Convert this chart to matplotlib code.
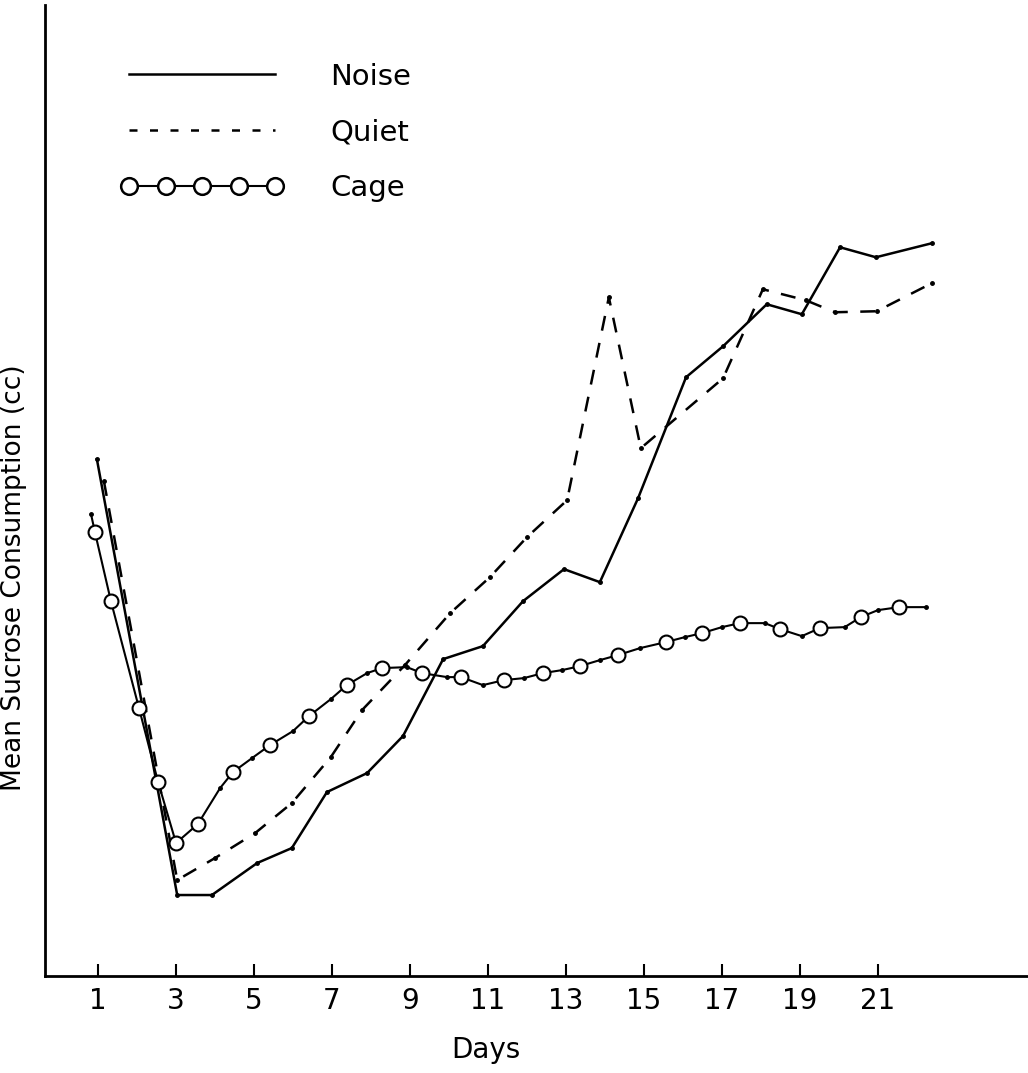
import matplotlib
matplotlib.use("Agg")
import matplotlib.pyplot as plt
from matplotlib.lines import Line2D

# values (days, cc)
noise_days = [0.97, 3.03, 3.92, 5.08, 5.97, 6.87, 7.90, 8.82, 9.85, 10.87, 11.90,
              12.95, 13.87, 14.85, 16.08, 17.03, 18.15, 19.05, 20.03, 20.95, 22.38]
noise_vals = [5.17, 0.81, 0.81, 1.13, 1.28, 1.84, 2.03, 2.40, 3.17, 3.30, 3.75,
              4.07, 3.94, 4.78, 5.99, 6.30, 6.72, 6.62, 7.29, 7.19, 7.33]

quiet_days = [1.15, 3.03, 4.00, 5.03, 5.97, 6.97, 7.77, 8.87, 10.03, 11.05, 12.00,
              13.03, 14.10, 14.92, 17.03, 18.05, 19.15, 19.90, 20.97, 22.38]
quiet_vals = [4.95, 0.96, 1.18, 1.43, 1.73, 2.19, 2.66, 3.11, 3.63, 3.99, 4.39,
              4.76, 6.79, 5.28, 5.98, 6.87, 6.76, 6.64, 6.65, 6.93]

cage_days = [0.82, 0.92, 1.33, 2.05, 2.54, 3.00, 3.56, 4.13, 4.46, 4.95, 5.41,
             6.00, 6.41, 6.97, 7.38, 7.90, 8.28, 8.92, 9.31, 9.95, 10.31, 10.87,
             11.41, 11.92, 12.41, 12.90, 13.36, 13.87, 14.33, 14.90, 15.56, 16.05,
             16.49, 17.00, 17.46, 18.10, 18.49, 19.05, 19.51, 20.15, 20.56, 21.00,
             21.54, 22.23]
cage_vals = [4.62, 4.44, 3.75, 2.68, 1.94, 1.33, 1.52, 1.88, 2.04, 2.18, 2.31,
             2.45, 2.60, 2.77, 2.91, 3.03, 3.08, 3.09, 3.03, 2.99, 2.99, 2.91,
             2.96, 2.98, 3.03, 3.06, 3.10, 3.16, 3.21, 3.28, 3.34, 3.39,
             3.43, 3.49, 3.53, 3.53, 3.47, 3.40, 3.48, 3.49, 3.59, 3.66,
             3.69, 3.69]
# 1 = open circle, 0 = small dot
cage_circle = [0, 1, 1, 1, 1, 1, 1, 0, 1, 0, 1,
               0, 1, 0, 1, 0, 1, 0, 1, 0, 1, 0,
               1, 0, 1, 0, 1, 0, 1, 0, 1, 0,
               1, 0, 1, 0, 1, 0, 1, 0, 1, 0,
               1, 0]

day_ticks = [1, 3, 5, 7, 9, 11, 13, 15, 17, 19, 21]

plt.rcParams['font.family'] = ['DejaVu Sans']

fig = plt.figure(figsize=(10.28, 10.73), dpi=100)
ax = fig.add_axes([0.0438, 0.0904, 0.9562, 0.9046])

lw = 1.8
ax.plot(noise_days, noise_vals, color='black', lw=lw, marker='o', ms=2.5)
ax.plot(quiet_days, quiet_vals, color='black', lw=lw, dashes=(6, 5), marker='o', ms=2.5)
ax.plot(cage_days, cage_vals, color='black', lw=1.5)
cx = [d for d, c in zip(cage_days, cage_circle) if c]
cy = [v for v, c in zip(cage_vals, cage_circle) if c]
dx = [d for d, c in zip(cage_days, cage_circle) if not c]
dy = [v for v, c in zip(cage_vals, cage_circle) if not c]
ax.plot(cx, cy, ls='none', marker='o', ms=10, mfc='white', mec='black', mew=1.5)
ax.plot(dx, dy, ls='none', marker='o', ms=2.5, color='black')

ax.set_xlim(-0.36, 24.85)
ax.set_ylim(0, 9.71)

for s in ['top', 'right']:
    ax.spines[s].set_visible(False)
ax.spines['left'].set_linewidth(2)
ax.spines['bottom'].set_linewidth(2)

ax.set_xticks(day_ticks)
ax.set_xticklabels([str(d) for d in day_ticks], fontsize=20)
ax.tick_params(axis='x', direction='in', length=9, width=1.5, pad=8)
ax.set_yticks([])

ax.set_xlabel('Days', fontsize=20)
ax.xaxis.set_label_coords(0.448, -0.062)
ax.set_ylabel('Mean Sucrose Consumption (cc)', fontsize=19)
ax.yaxis.set_label_coords(-0.018, 0.41)

handles = [
    Line2D([], [], color='black', lw=lw),
    Line2D([], [], color='black', lw=lw, dashes=(3.2, 5)),
    Line2D([], [], color='black', lw=1.5, marker='o', ms=12, mfc='white', mec='black', mew=1.8),
]
ax.legend(handles, ['Noise', 'Quiet', 'Cage'], loc='upper left',
          bbox_to_anchor=(0.05, 0.968), frameon=False, fontsize=21,
          handlelength=5.6, handletextpad=1.6, labelspacing=0.95, numpoints=5)

fig.savefig('out.png', dpi=100)
